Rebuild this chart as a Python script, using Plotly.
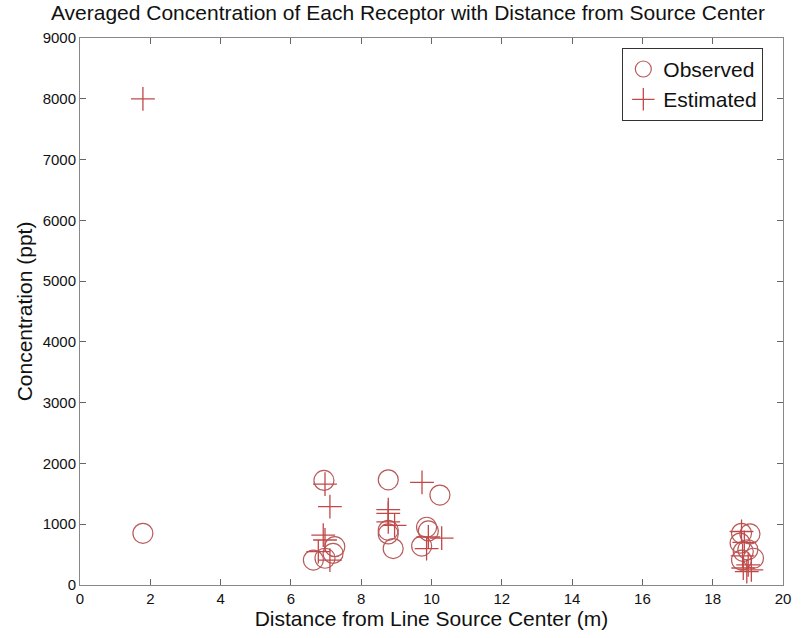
import plotly.graph_objects as go

# Observed (circles)
obs_x = [1.79, 6.94, 7.25, 7.20, 6.64, 6.97, 8.77, 10.24, 8.77, 8.77, 8.91,
         9.86, 9.91, 9.72, 18.82, 19.06, 18.78, 18.87, 19.00, 19.16, 18.82]
obs_y = [850, 1720, 630, 520, 410, 440, 1730, 1480, 900, 840, 600,
         950, 890, 640, 850, 840, 690, 550, 580, 440, 410]

# Estimated (pluses)
est_x = [1.79, 6.97, 7.11, 6.92, 6.97, 6.78, 7.11, 9.73, 8.77, 8.77, 8.77,
         8.95, 9.91, 10.29, 9.86, 18.82, 18.90, 18.85, 19.01, 18.87, 18.97, 19.10]
est_y = [8000, 1660, 1290, 820, 740, 550, 410, 1690, 1240, 1180, 1040,
         980, 790, 770, 600, 880, 700, 480, 330, 280, 220, 250]

x_ticks = [0, 2, 4, 6, 8, 10, 12, 14, 16, 18, 20]
y_ticks = [0, 1000, 2000, 3000, 4000, 5000, 6000, 7000, 8000, 9000]

FONT = "Liberation Sans, Arial, sans-serif"

fig = go.Figure()
fig.add_trace(go.Scatter(
    x=obs_x, y=obs_y, mode="markers", name="Observed",
    marker=dict(symbol="circle-open", size=20, color="#b85a5a",
                line=dict(width=1.2, color="#b85a5a")),
))
fig.add_trace(go.Scatter(
    x=est_x, y=est_y, mode="markers", name="Estimated",
    marker=dict(symbol="cross-thin-open", size=17, color="#c24848",
                line=dict(width=1.3, color="#c24848")),
))

axis_common = dict(
    showgrid=False, zeroline=False, showline=True, linecolor="#888888",
    linewidth=1, mirror="ticks", ticks="inside", ticklen=6,
    tickcolor="#666666", tickfont=dict(family=FONT, size=15, color="#111111"),
)

fig.update_layout(
    width=803, height=638,
    margin=dict(l=80, r=20, t=38, b=53),
    paper_bgcolor="white", plot_bgcolor="white",
    title=dict(text="Averaged Concentration of Each Receptor with Distance from Source Center",
               font=dict(family=FONT, size=21, color="#111111"),
               x=0.508, xanchor="center", y=0.992, yanchor="top"),
    xaxis=dict(range=[0, 20], tickvals=x_ticks,
               title=dict(text="Distance from Line Source Center (m)",
                          font=dict(family=FONT, size=21, color="#111111"),
                          standoff=2),
               **axis_common),
    yaxis=dict(range=[0, 9000], tickvals=y_ticks,
               title=dict(text="Concentration (ppt)",
                          font=dict(family=FONT, size=21, color="#111111"),
                          standoff=4),
               **axis_common),
    legend=dict(x=0.972, y=0.982, xanchor="right", yanchor="top",
                bgcolor="white", bordercolor="#333333", borderwidth=1,
                font=dict(family=FONT, size=21, color="#111111"),
                tracegroupgap=0),
    showlegend=True,
)

fig.write_html("out.html")
